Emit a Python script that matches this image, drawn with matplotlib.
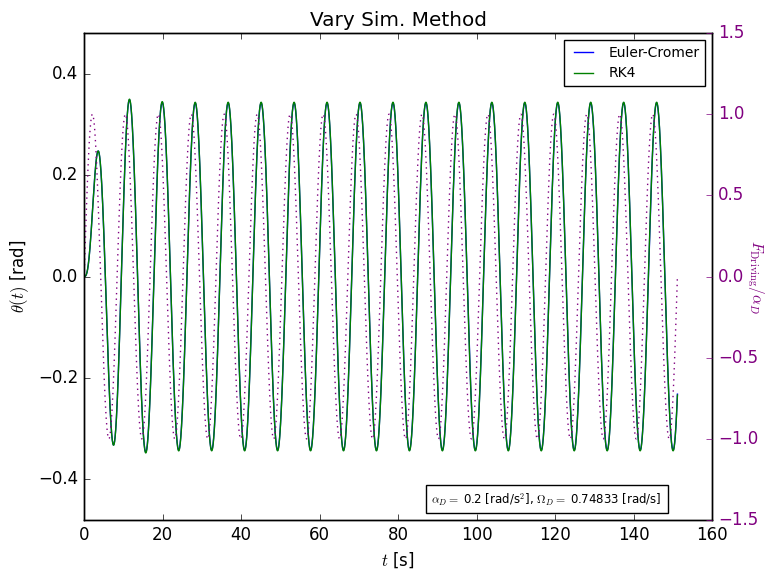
import numpy as np
import matplotlib
matplotlib.use("Agg")
import matplotlib.pyplot as plt

# Driven damped pendulum, parameters as given in the chart's text box
alpha_D = 0.2        # driving amplitude [rad/s^2]
Omega_D = 0.74833    # driving frequency [rad/s]
g_over_l = 1.0
q = 0.53             # damping coefficient
theta_start = 0.0
omega_start = 0.0
dt = 0.02
n_periods = 18

methods = ["Euler-Cromer", "RK4"]
method_colors = ["b", "g"]


def accel(t, theta, omega):
    return -g_over_l * np.sin(theta) - q * omega + alpha_D * np.sin(Omega_D * t)


def euler_cromer(t):
    theta = np.zeros_like(t)
    omega = np.zeros_like(t)
    theta[0], omega[0] = theta_start, omega_start
    for i in range(len(t) - 1):
        omega[i + 1] = omega[i] + accel(t[i], theta[i], omega[i]) * dt
        theta[i + 1] = theta[i] + omega[i + 1] * dt
    return theta


def rk4(t):
    theta = np.zeros_like(t)
    omega = np.zeros_like(t)
    theta[0], omega[0] = theta_start, omega_start
    for i in range(len(t) - 1):
        th, om, ti = theta[i], omega[i], t[i]
        k1t, k1o = om, accel(ti, th, om)
        k2t, k2o = om + 0.5 * dt * k1o, accel(ti + 0.5 * dt, th + 0.5 * dt * k1t, om + 0.5 * dt * k1o)
        k3t, k3o = om + 0.5 * dt * k2o, accel(ti + 0.5 * dt, th + 0.5 * dt * k2t, om + 0.5 * dt * k2o)
        k4t, k4o = om + dt * k3o, accel(ti + dt, th + dt * k3t, om + dt * k3o)
        theta[i + 1] = th + dt / 6 * (k1t + 2 * k2t + 2 * k3t + k4t)
        omega[i + 1] = om + dt / 6 * (k1o + 2 * k2o + 2 * k3o + k4o)
    return theta


t_end = n_periods * 2 * np.pi / Omega_D
t = np.arange(0, t_end + dt / 2, dt)
results = [euler_cromer(t), rk4(t)]
driving = np.sin(Omega_D * t)

plt.style.use("classic")
fig = plt.figure(figsize=(7.65, 5.69), dpi=100)
ax = fig.add_axes([0.110, 0.086, 0.821, 0.856])

for name, color, theta in zip(methods, method_colors, results):
    ax.plot(t, theta, color=color, label=name)

ax.set_xlim(0, 160)
ax.set_ylim(-0.48, 0.48)
ax.set_yticks([-0.4, -0.2, 0.0, 0.2, 0.4])
ax.set_xlabel("$t$ [s]")
ax.set_ylabel(r"$\theta(t)$ [rad]")
ax.set_title("Vary Sim. Method")
ax.legend(loc="upper right", fontsize=10)

ax.text(0.92, 0.025,
        r"$\alpha_D = $ 0.2 [rad/s$^2$], $\Omega_D = $ 0.74833 [rad/s]",
        transform=ax.transAxes, ha="right", va="bottom", fontsize=8.5,
        bbox=dict(facecolor="white", edgecolor="black"))

ax2 = ax.twinx()
ax2.plot(t, driving, color="purple", linestyle=":")
ax2.set_ylim(-1.5, 1.5)
ax2.set_yticks(np.arange(-1.5, 1.51, 0.5))
ax2.set_ylabel(r"$F_{\mathrm{Driving}}/\alpha_D$", color="purple",
               rotation=270, ha="center", va="center", fontsize=11)
ax2.yaxis.set_label_coords(1.068, 0.5)
ax2.tick_params(axis="y", colors="purple")
ax2.set_xlim(0, 160)

fig.savefig("out.png", dpi=100)
